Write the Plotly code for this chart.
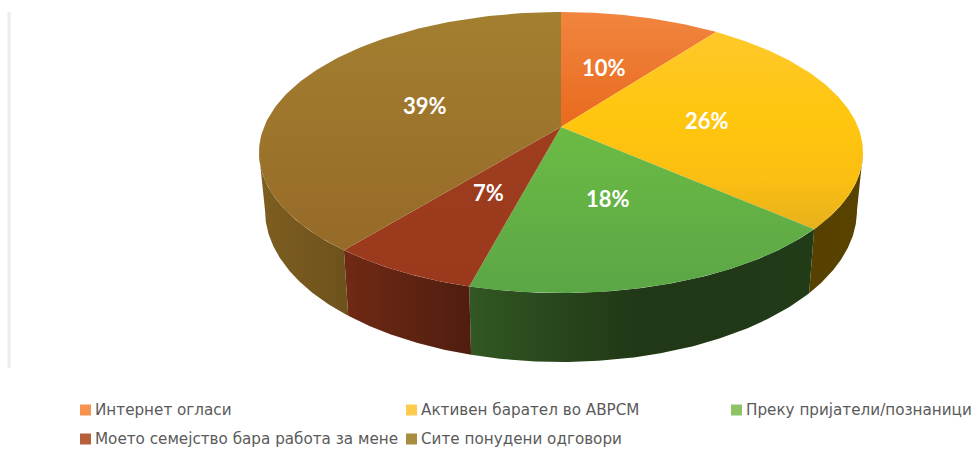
import numpy as np
import plotly.graph_objects as go

# ---- data ----
categories = ["Интернет огласи", "Активен барател во АВРСМ", "Преку пријатели/познаници",
              "Моето семејство бара работа за мене", "Сите понудени одговори"]
values = [10.2, 26.3, 17.6, 6.7, 39.2]
labels = ["10%", "26%", "18%", "7%", "39%"]

# ---- style ----
top_scales = [
    [[0, "#F1853F"], [1, "#E96A1E"]],
    [[0, "#FFC82A"], [0.45, "#FFC60E"], [0.75, "#FBBE12"], [1, "#E6B11C"]],
    [[0, "#6CBB44"], [1, "#5BA646"]],
    [[0, "#9F3D1F"], [1, "#9B391D"]],
    [[0, "#A37F30"], [1, "#966A28"]],
]
top_ranges = [(12, 127), (30, 230), (127, 293), (127, 288), (12, 250)]
wall_base = [(237, 125, 49), (255, 192, 0), (100, 175, 70), (158, 58, 30), (154, 115, 40)]
swatches = ["#F8924F", "#FFCB4F", "#8FC368", "#B5603A", "#A88C3F"]
legend_x = [80, 406, 731, 80, 406]
legend_y = [410, 410, 410, 439, 439]

# perspective camera of the pie, in chart pixels
CX, CY, A, B, K = 561.0, 127.0, 297.0, 135.9, 0.1815
# the wall is seen between the two silhouette tangents of the rim
PHI_R = np.degrees(np.arccos(-K))
PHI_L = 360 - PHI_R


def project(phi_deg, r=1.0):
    p = np.radians(phi_deg)
    u, v = r * np.sin(p), -r * np.cos(p)
    d = 1 - K * v
    return CX + A * u / d, CY + B * v / d


def lower(x, y):
    return CX + 0.98 * (x - CX), y + 64 + 0.078 * (y - 229)


def shade(x):
    return np.interp(x, [259, 344, 470, 650, 864], [0.82, 0.72, 0.50, 0.31, 0.35])


def wall_scale(base):
    stops = np.linspace(259, 864, 9)
    out = []
    for s in stops:
        f = shade(s)
        out.append([(s - 259) / 605, "rgb(%d,%d,%d)" % tuple(int(c * f) for c in base)])
    return out


fig = go.Figure()
cum = np.concatenate([[0], np.cumsum(values)]) * 3.6

for i in range(len(values)):
    a, b = max(cum[i], PHI_R), min(cum[i + 1], PHI_L)
    if a >= b:
        continue
    phi = np.linspace(a, b, 120)
    x, y = project(phi)
    xb, yb = lower(x, y)
    fig.add_trace(go.Scatter(
        x=np.concatenate([x, xb[::-1], x[:1]]), y=np.concatenate([y, yb[::-1], y[:1]]),
        mode="lines", line=dict(width=0), fill="toself", hoverinfo="skip", showlegend=False,
        fillgradient=dict(type="horizontal", colorscale=wall_scale(wall_base[i]), start=259, stop=864),
    ))

for i in range(len(values)):
    phi = np.linspace(cum[i], cum[i + 1], 120)
    x, y = project(phi)
    fig.add_trace(go.Scatter(
        x=np.concatenate([[CX], x, [CX]]), y=np.concatenate([[CY], y, [CY]]),
        mode="lines", line=dict(width=0), fill="toself", name=categories[i], showlegend=False,
        fillgradient=dict(type="vertical", colorscale=top_scales[i],
                          start=top_ranges[i][0], stop=top_ranges[i][1]),
    ))

annotations = []
for i in range(len(values)):
    lx, ly = project((cum[i] + cum[i + 1]) / 2, 0.5)
    annotations.append(dict(x=lx, y=ly, text=labels[i], showarrow=False, xanchor="center", yanchor="middle",
                            font=dict(family="Lato", size=22, color="white", weight="bold")))
    annotations.append(dict(x=legend_x[i] + 13, y=legend_y[i], text=categories[i], showarrow=False,
                            xanchor="left", yanchor="middle",
                            font=dict(family="DejaVu Sans", size=15.2, color="#5A5A5A")))

shapes = [dict(type="rect", x0=legend_x[i], x1=legend_x[i] + 11, y0=legend_y[i] - 5.5, y1=legend_y[i] + 5.5,
               fillcolor=swatches[i], line=dict(width=0)) for i in range(len(values))]
shapes.append(dict(type="line", x0=9, x1=9, y0=12, y1=368, line=dict(color="#EDEDED", width=3)))

fig.update_layout(
    width=977, height=453, margin=dict(l=0, r=0, t=0, b=0), paper_bgcolor="white", plot_bgcolor="white",
    xaxis=dict(range=[0, 977], visible=False, fixedrange=True),
    yaxis=dict(range=[453, 0], visible=False, fixedrange=True),
    annotations=annotations, shapes=shapes, showlegend=False,
)
fig.write_html("out.html", config=dict(displayModeBar=False),
               post_script="document.body.style.margin='0';document.documentElement.style.overflow='hidden';")
